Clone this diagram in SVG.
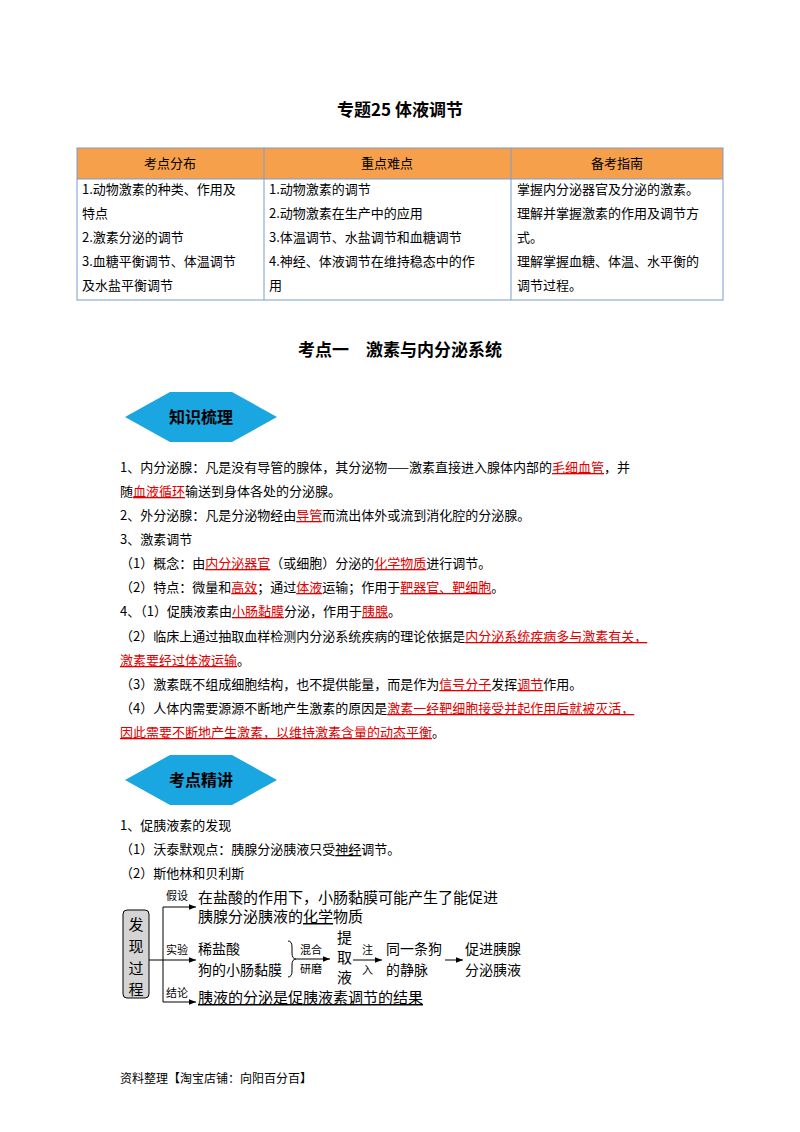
<svg xmlns="http://www.w3.org/2000/svg" width="800" height="1132" viewBox="0 0 800 1132">
<defs>
<style>
text{font-family:"Noto Sans CJK SC","Liberation Sans",sans-serif;font-size:13px;fill:#000}
.b{font-weight:bold;font-size:17px}
.r{fill:#e00000;text-decoration:underline}
.u{text-decoration:underline}
.d{font-size:15px;font-family:"Noto Sans CJK SC",serif}
.e{font-size:14px;font-family:"Noto Sans CJK SC",serif}
.s{font-size:11px}
.ln{stroke:#000;stroke-width:1;fill:none}
</style>
<marker id="a" viewBox="0 0 10 10" refX="10" refY="5" markerWidth="7" markerHeight="7" orient="auto"><path d="M0,1L10,5L0,9z" fill="#000"/></marker>
<g id="ban"><polygon points="0,25 45,0 107,0 152,25 107,50 45,50" fill="#1aa6e0"/><rect x="30" y="9" width="92" height="32" fill="#1aa6e0"/></g>
</defs>
<rect width="800" height="1132" fill="#fff"/>
<text class="b" x="400" y="116" text-anchor="middle">专题25 体液调节</text>
<g id="table">
<rect x="77" y="148" width="646" height="31" fill="#f7a04c"/>
<rect x="77" y="148" width="646" height="152" fill="none" stroke="#7a9ccf"/>
<line x1="77" y1="179" x2="723" y2="179" stroke="#7a9ccf"/>
<line x1="264" y1="148" x2="264" y2="300" stroke="#7a9ccf"/>
<line x1="511" y1="148" x2="511" y2="300" stroke="#7a9ccf"/>
<text x="170" y="168" text-anchor="middle">考点分布</text>
<text x="387" y="168" text-anchor="middle">重点难点</text>
<text x="617" y="168" text-anchor="middle">备考指南</text>
<text x="82" y="194">1.动物激素的种类、作用及</text><text x="82" y="218">特点</text><text x="82" y="242">2.激素分泌的调节</text><text x="82" y="266">3.血糖平衡调节、体温调节</text><text x="82" y="290">及水盐平衡调节</text>
<text x="269" y="194">1.动物激素的调节</text><text x="269" y="218">2.动物激素在生产中的应用</text><text x="269" y="242">3.体温调节、水盐调节和血糖调节</text><text x="269" y="266">4.神经、体液调节在维持稳态中的作</text><text x="269" y="290">用</text>
<text x="517" y="194">掌握内分泌器官及分泌的激素。</text><text x="517" y="218">理解并掌握激素的作用及调节方</text><text x="517" y="242">式。</text><text x="517" y="266">理解掌握血糖、体温、水平衡的</text><text x="517" y="290">调节过程。</text>
</g>
<text class="b" x="400" y="356" text-anchor="middle">考点一　激素与内分泌系统</text>
<g id="banner1"><use href="#ban" x="125" y="392"/><text x="201" y="423" text-anchor="middle" style="font-weight:bold;font-size:16px">知识梳理</text></g>
<g id="body1">
<text x="120" y="472">1、内分泌腺：凡是没有导管的腺体，其分泌物——激素直接进入腺体内部的<tspan class="r">毛细血管</tspan>，并</text>
<text x="120" y="496">随<tspan class="r">血液循环</tspan>输送到身体各处的分泌腺。</text>
<text x="120" y="520">2、外分泌腺：凡是分泌物经由<tspan class="r">导管</tspan>而流出体外或流到消化腔的分泌腺。</text>
<text x="120" y="544">3、激素调节</text>
<text x="120" y="568">（1）概念：由<tspan class="r">内分泌器官</tspan>（或细胞）分泌的<tspan class="r">化学物质</tspan>进行调节。</text>
<text x="120" y="592">（2）特点：微量和<tspan class="r">高效</tspan>；通过<tspan class="r">体液</tspan>运输；作用于<tspan class="r">靶器官、靶细胞</tspan>。</text>
<text x="120" y="616">4、（1）促胰液素由<tspan class="r">小肠黏膜</tspan>分泌，作用于<tspan class="r">胰腺</tspan>。</text>
<text x="120" y="641">（2）临床上通过抽取血样检测内分泌系统疾病的理论依据是<tspan class="r">内分泌系统疾病多与激素有关，</tspan></text>
<text x="120" y="665"><tspan class="r">激素要经过体液运输</tspan>。</text>
<text x="120" y="689">（3）激素既不组成细胞结构，也不提供能量，而是作为<tspan class="r">信号分子</tspan>发挥<tspan class="r">调节</tspan>作用。</text>
<text x="120" y="713">（4）人体内需要源源不断地产生激素的原因是<tspan class="r">激素一经靶细胞接受并起作用后就被灭活，</tspan></text>
<text x="120" y="737"><tspan class="r">因此需要不断地产生激素，以维持激素含量的动态平衡</tspan>。</text>
</g>
<g id="banner2"><use href="#ban" x="125" y="755"/><text x="201" y="786" text-anchor="middle" style="font-weight:bold;font-size:16px">考点精讲</text></g>
<text x="120" y="830">1、促胰液素的发现</text>
<text x="120" y="854">（1）沃泰默观点：胰腺分泌胰液只受<tspan class="u">神经</tspan>调节。</text>
<text x="120" y="878">（2）斯他林和贝利斯</text>
<g id="box"><rect x="123" y="910" width="26" height="88" rx="4" fill="#d4d4d4" stroke="#000"/>
<text class="d" x="136" y="930" text-anchor="middle">发</text><text class="d" x="136" y="952" text-anchor="middle">现</text><text class="d" x="136" y="974" text-anchor="middle">过</text><text class="d" x="136" y="995" text-anchor="middle">程</text></g>
<g id="connectors">
<path class="ln" d="M149,960H163M163,907V1002"/>
<path class="ln" d="M163,907H196" marker-end="url(#a)"/>
<path class="ln" d="M163,960H196" marker-end="url(#a)"/>
<path class="ln" d="M163,1002H196" marker-end="url(#a)"/>
<path class="ln" d="M288,941q4,0 4,6v6q0,6 4,6q-4,0 -4,6v6q0,6 -4,6"/>
<path class="ln" d="M296,959H330" marker-end="url(#a)"/>
<path class="ln" d="M353,960H382" marker-end="url(#a)"/>
<path class="ln" d="M445,960H463" marker-end="url(#a)"/>
</g>
<g id="labels">
<text class="s" x="166" y="900">假设</text><text class="s" x="166" y="954">实验</text><text class="s" x="166" y="997">结论</text>
<text class="d" x="198" y="903">在盐酸的作用下，小肠黏膜可能产生了能促进</text>
<text class="d" x="198" y="922">胰腺分泌胰液的<tspan class="u">化学</tspan>物质</text>
<text class="e" x="198" y="954">稀盐酸</text><text class="e" x="198" y="975">狗的小肠黏膜</text>
<text class="s" x="300" y="954">混合</text><text class="s" x="300" y="973">研磨</text>
<text class="d" x="337" y="943">提</text><text class="d" x="337" y="963">取</text><text class="d" x="337" y="983">液</text>
<text class="s" x="362" y="954">注</text><text class="s" x="362" y="974">入</text>
<text class="e" x="386" y="954">同一条狗</text><text class="e" x="386" y="975">的静脉</text>
<text class="e" x="465" y="954">促进胰腺</text><text class="e" x="465" y="975">分泌胰液</text>
<text class="d u" x="198" y="1003">胰液的分泌是促胰液素调节的结果</text>
</g>
<text x="120" y="1083" style="font-size:12px">资料整理【淘宝店铺：向阳百分百】</text>
</svg>
